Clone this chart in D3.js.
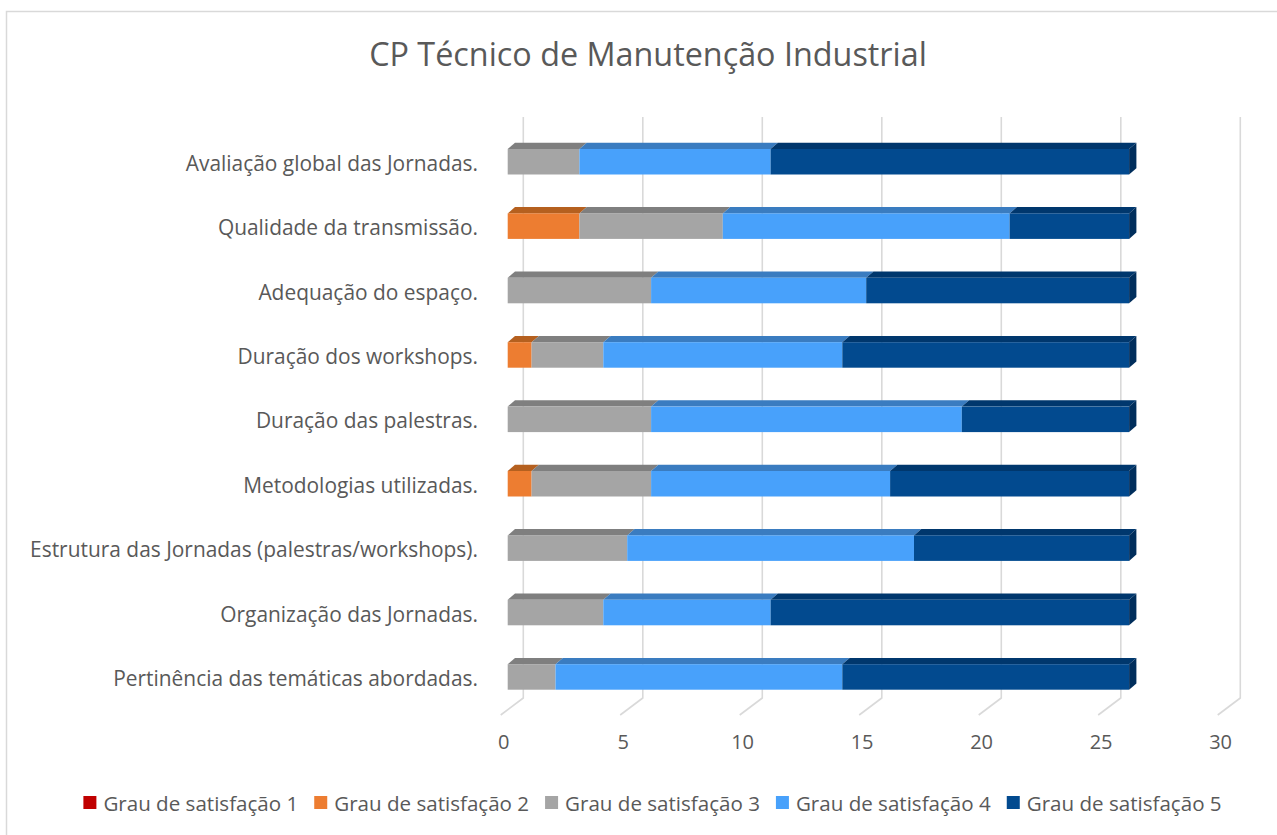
<!DOCTYPE html>
<html><head><meta charset="utf-8">
<script src="https://cdn.jsdelivr.net/npm/d3@7"></script>
<style>html,body{margin:0;padding:0;background:#fff;overflow:hidden}</style>
</head><body>
<svg id="c" width="1277" height="835"></svg>
<script>
const title = "CP Técnico de Manutenção Industrial";
const categories = [
  "Avaliação global das Jornadas.",
  "Qualidade da transmissão.",
  "Adequação do espaço.",
  "Duração dos workshops.",
  "Duração das palestras.",
  "Metodologias utilizadas.",
  "Estrutura das Jornadas (palestras/workshops).",
  "Organização das Jornadas.",
  "Pertinência das temáticas abordadas."
];
const seriesNames = ["Grau de satisfação 1","Grau de satisfação 2","Grau de satisfação 3","Grau de satisfação 4","Grau de satisfação 5"];
const grau1 = [0,0,0,0,0,0,0,0,0];
const grau2 = [0,3,0,1,0,1,0,0,0];
const grau3 = [3,6,6,3,6,5,5,4,2];
const grau4 = [8,12,9,10,13,10,12,7,12];
const grau5 = [15,5,11,12,7,10,9,15,12];
const xTicks = [0,5,10,15,20,25,30];

const seriesValues = [grau1,grau2,grau3,grau4,grau5];
const frontColors = ["#C00000","#ED7D31","#A5A5A5","#48A1FB","#024A8F"];
const topColors   = ["#8F0000","#B5601F","#7F7F7F","#3A7CC0","#00376D"];
const sideColors  = ["#700000","#9A4F18","#6A6A6A","#2F67A0","#002E5C"];

const svg = d3.select("#c");
const FONT = "'Open Sans', 'Noto Sans', sans-serif";
const TXT = "#595959";

// chart border
svg.append("rect").attr("x",6.5).attr("y",11.5).attr("width",1290).attr("height",840)
  .attr("fill","none").attr("stroke","#D9D9D9").attr("stroke-width",1.5);

// scales
const x = d3.scaleLinear().domain([0,30]).range([507.7, 507.7+30*23.9]);
const y = d3.scaleBand().domain(categories).range([129.55, 709.15]).paddingInner(0.604).paddingOuter(0.302);
const backDx = 15.6, gridTop = 117, gridBottom = 698, floorDx = -22.6, floorDy = 17;
const depthDx = 7.3, depthDy = -6.3;

// gridlines (back wall + floor)
const g = svg.append("g");
xTicks.forEach(t => {
  const bx = x(t) + backDx;
  g.append("path")
    .attr("d", `M${bx},${gridTop}L${bx},${gridBottom}L${bx+floorDx},${gridBottom+floorDy}`)
    .attr("fill","none").attr("stroke","#D9D9D9").attr("stroke-width",1.6);
});

// x tick labels via axis
const axisG = svg.append("g").attr("transform",`translate(${-4.6},735)`)
  .call(d3.axisBottom(x).tickValues(xTicks).tickSize(0).tickPadding(0));
axisG.select(".domain").remove();
axisG.selectAll("text").attr("font-family",FONT).attr("font-size",20).attr("fill",TXT)
  .attr("dy","0.71em").attr("y",0);

// stacked data
const table = categories.map((c,i)=>{const o={cat:c}; seriesNames.forEach((s,k)=>o[s]=seriesValues[k][i]); return o;});
const stack = d3.stack().keys(seriesNames)(table);

const bars = svg.append("g");
stack.forEach((layer,k)=>{
  layer.forEach((d,i)=>{
    const v0=d[0], v1=d[1];
    if (v1-v0<=0) return;
    const cat = categories[i];
    const yT = y(cat), h = y.bandwidth();
    const x0 = x(v0), x1 = x(v1);
    bars.append("path")
      .attr("d",`M${x0},${yT}L${x0+depthDx},${yT+depthDy}L${x1+depthDx},${yT+depthDy}L${x1},${yT}Z`)
      .attr("fill",topColors[k]);
    bars.append("rect").attr("x",x0).attr("y",yT).attr("width",x1-x0).attr("height",h)
      .attr("fill",frontColors[k]);
  });
});
categories.forEach((cat,i)=>{
  let last=-1;
  stack.forEach((layer,k)=>{ if(layer[i][1]-layer[i][0]>0) last=k; });
  const v=stack[last][i][1];
  const xe=x(v), yT=y(cat), h=y.bandwidth();
  bars.append("path")
    .attr("d",`M${xe},${yT}L${xe+depthDx},${yT+depthDy}L${xe+depthDx},${yT+h+depthDy}L${xe},${yT+h}Z`)
    .attr("fill",sideColors[last]);
});

// category labels
const labG = svg.append("g");
const labels = labG.selectAll("text").data(categories).join("text")
  .attr("x",478).attr("y",d=>y(d)+y.bandwidth()/2+9)
  .attr("text-anchor","end").attr("font-family",FONT).attr("font-size",20).attr("fill",TXT)
  .text(d=>d);
let maxW = 0; labels.each(function(){maxW=Math.max(maxW,this.getComputedTextLength());});
labels.attr("font-size",20*448/maxW);

// title
const tt = svg.append("text").attr("x",648).attr("y",66).attr("text-anchor","middle")
  .attr("font-family",FONT).attr("font-size",30).attr("fill",TXT).text(title);
const tw = tt.node().getComputedTextLength();
tt.attr("font-size",30*558/tw);

// legend
const legG = svg.append("g");
const items = seriesNames.map((s,k)=>{
  const t = legG.append("text").attr("font-family",FONT).attr("font-size",20).attr("fill",TXT)
    .attr("y",811).text(s);
  return {t,k};
});
const w0 = items[0].t.node().getComputedTextLength();
const legSize = 20*195/w0;
items.forEach(it=>it.t.attr("font-size",legSize));
const widths = items.map(it=>it.t.node().getComputedTextLength());
const sq=13, gap1=7, gap2=16;
const total = d3.sum(widths)+items.length*(sq+gap1)+(items.length-1)*gap2;
let cx = 652.5 - total/2;
items.forEach((it,k)=>{
  legG.append("rect").attr("x",cx).attr("y",796).attr("width",sq).attr("height",sq).attr("fill",frontColors[k]);
  it.t.attr("x",cx+sq+gap1);
  cx += sq+gap1+widths[k]+gap2;
});
</script>
</body></html>
